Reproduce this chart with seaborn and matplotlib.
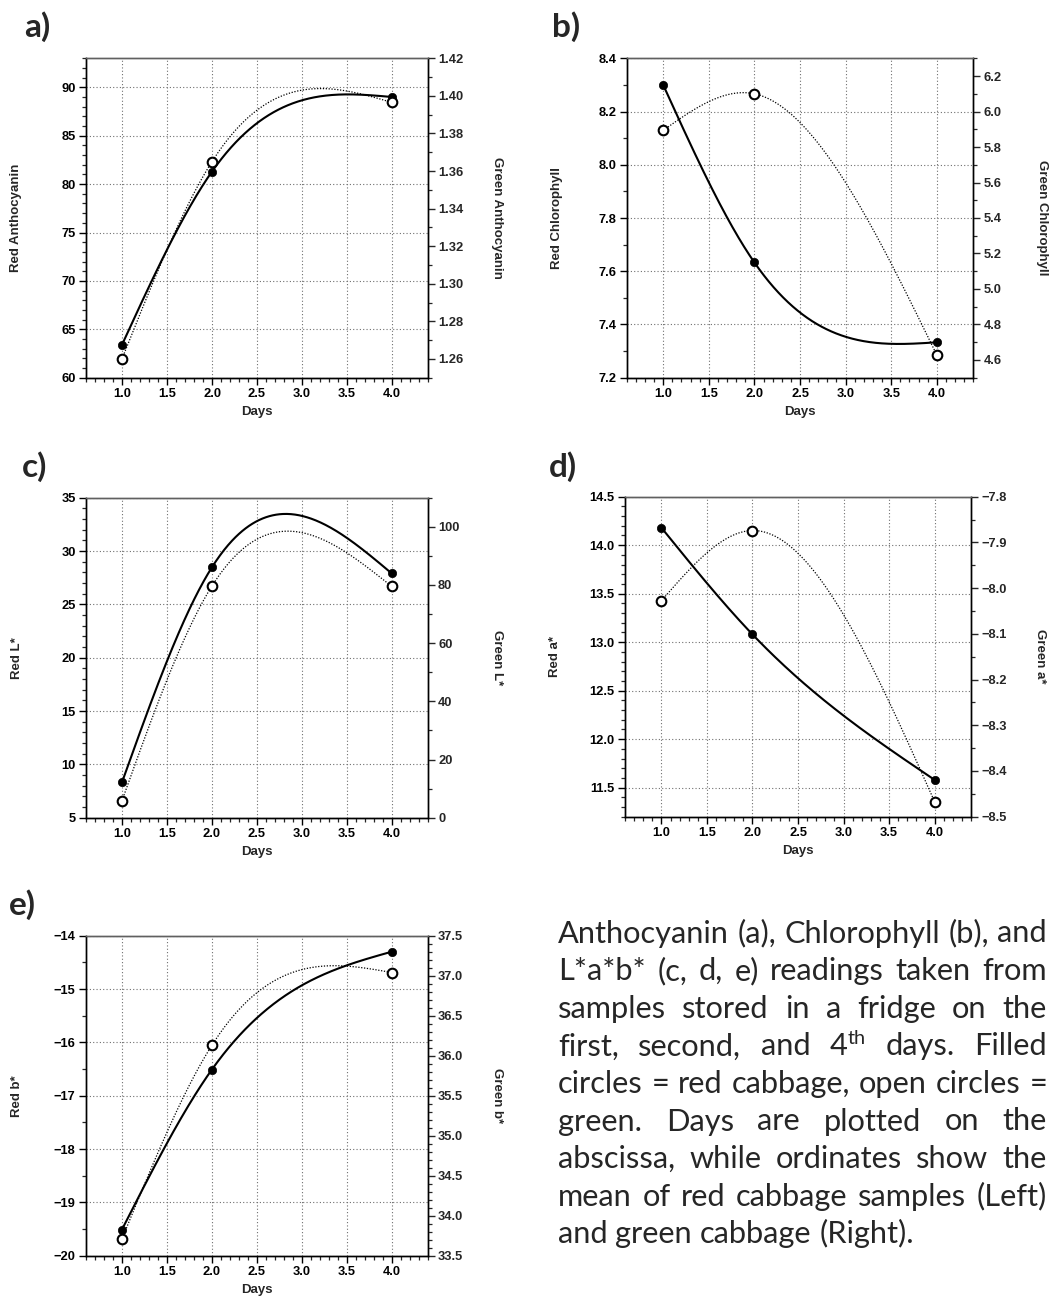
import numpy as np
import pandas as pd
import seaborn as sns
import matplotlib
matplotlib.use("Agg")
import matplotlib.pyplot as plt
from matplotlib.ticker import MultipleLocator, FuncFormatter

# ---------------- data ----------------
days = [1.0, 2.0, 4.0]
red_anthocyanin = [63.4, 81.3, 89.0]
green_anthocyanin = [1.260, 1.365, 1.3965]
red_chlorophyll = [8.30, 7.633, 7.333]
green_chlorophyll = [5.894, 6.10, 4.628]
red_L = [8.31, 28.47, 27.9]
green_L = [5.84, 79.6, 79.5]
red_a = [14.18, 13.08, 11.58]
green_a = [-8.0275, -7.874, -8.467]
red_b = [-19.51, -16.51, -14.30]
green_b = [33.71, 36.13, 37.04]

caption_lines = [
    ["Anthocyanin", "(a),", "Chlorophyll", "(b),", "and"],
    ["L*a*b*", "(c,", "d,", "e)", "readings", "taken", "from"],
    ["samples", "stored", "in", "a", "fridge", "on", "the"],
    ["first,", "second,", "and", "4^th", "days.", "Filled"],
    ["circles", "=", "red", "cabbage,", "open", "circles", "="],
    ["green.", "Days", "are", "plotted", "on", "the"],
    ["abscissa,", "while", "ordinates", "show", "the"],
    ["mean", "of", "red", "cabbage", "samples", "(Left)"],
    ["and", "green", "cabbage", "(Right)."],
]

# ---------------- setup ----------------
sns.set_theme(style="white")
plt.rcParams["font.family"] = ["Liberation Sans", "DejaVu Sans"]
plt.rcParams["font.weight"] = "bold"
plt.rcParams["axes.labelweight"] = "bold"

W, H = 1053, 1299
fig = plt.figure(figsize=(W / 100, H / 100), dpi=100)
fig.patch.set_facecolor("white")

TICK_FS = 9.3
LABEL_FS = 9.5


def natural_spline(x, y, xs):
    x = np.asarray(x, float)
    y = np.asarray(y, float)
    n = len(x)
    h = np.diff(x)
    A = np.zeros((n, n))
    rhs = np.zeros(n)
    A[0, 0] = 1.0
    A[-1, -1] = 1.0
    for i in range(1, n - 1):
        A[i, i - 1] = h[i - 1]
        A[i, i] = 2 * (h[i - 1] + h[i])
        A[i, i + 1] = h[i]
        rhs[i] = 6 * ((y[i + 1] - y[i]) / h[i] - (y[i] - y[i - 1]) / h[i - 1])
    M = np.linalg.solve(A, rhs)
    out = np.empty_like(xs)
    for k, xv in enumerate(xs):
        i = min(max(np.searchsorted(x, xv) - 1, 0), n - 2)
        hi = h[i]
        a = x[i + 1] - xv
        b = xv - x[i]
        out[k] = (M[i] * a ** 3 / (6 * hi) + M[i + 1] * b ** 3 / (6 * hi)
                  + (y[i] / hi - M[i] * hi / 6) * a
                  + (y[i + 1] / hi - M[i + 1] * hi / 6) * b)
    return out


def fmt(f):
    return FuncFormatter(lambda v, p: (f % v).replace("-", "\u2212"))


def panel(box, red, green, rlab, glab, rlim, rmaj, rmin, rf, glim, gmaj, gmin, gf):
    l, r, t, b = box
    ax = fig.add_axes([l / W, 1 - b / H, (r - l) / W, (b - t) / H])
    ax2 = ax.twinx()
    xs = np.linspace(1.0, 4.0, 400)
    red_df = pd.DataFrame({"day": xs, "val": natural_spline(days, red, xs)})
    green_df = pd.DataFrame({"day": xs, "val": natural_spline(days, green, xs)})

    ax.grid(True, which="major", color="#707070", linestyle=(0, (1, 2)), linewidth=0.8)
    ax.set_axisbelow(True)
    sns.lineplot(data=red_df, x="day", y="val", ax=ax, color="black",
                 linewidth=1.5, estimator=None, sort=False, legend=False)
    sns.scatterplot(x=days, y=red, ax=ax, color="black", s=36,
                    edgecolor="black", linewidth=0.5, zorder=5, legend=False)
    sns.lineplot(data=green_df, x="day", y="val", ax=ax2, color="black",
                 linewidth=0.9, linestyle=(0, (1, 1.3)), estimator=None,
                 sort=False, legend=False)
    sns.scatterplot(x=days, y=green, ax=ax2, color="white", s=48,
                    edgecolor="black", linewidth=1.5, zorder=6, legend=False)

    ax.set_xlim(0.6, 4.4)
    ax.set_ylim(*rlim)
    ax2.set_ylim(*glim)
    ax.xaxis.set_major_locator(MultipleLocator(0.5))
    ax.xaxis.set_minor_locator(MultipleLocator(0.1))
    ax.xaxis.set_major_formatter(fmt("%.1f"))
    ax.yaxis.set_major_locator(MultipleLocator(rmaj))
    ax.yaxis.set_minor_locator(MultipleLocator(rmin))
    ax.yaxis.set_major_formatter(fmt(rf))
    ax2.yaxis.set_major_locator(MultipleLocator(gmaj))
    ax2.yaxis.set_minor_locator(MultipleLocator(gmin))
    ax2.yaxis.set_major_formatter(fmt(gf))
    ax2.grid(False)

    ax.tick_params(axis="both", which="major", direction="out", length=5,
                   width=1, labelsize=TICK_FS, pad=2.5, colors="black",
                   bottom=True, left=True, top=False, right=False)
    ax.tick_params(axis="both", which="minor", direction="out", length=3,
                   width=0.9, bottom=True, left=True, top=False, right=False)
    ax2.tick_params(axis="y", which="major", direction="out", length=5,
                    width=1, labelsize=TICK_FS, pad=2.5, right=True, left=False)
    ax2.tick_params(axis="y", which="minor", direction="out", length=3,
                    width=0.9, right=True, left=False)

    for a_ in (ax, ax2):
        for side in ("left", "right", "bottom"):
            a_.spines[side].set_color("black")
            a_.spines[side].set_linewidth(1.0)
        a_.spines["top"].set_color("#606060")
        a_.spines["top"].set_linewidth(1.0)

    ax.set_xlabel("Days", fontsize=LABEL_FS, fontweight="bold", va="center")
    ax.xaxis.set_label_coords(0.5, -34 / (b - t))
    ax.set_ylabel(rlab, fontsize=LABEL_FS, fontweight="bold", va="center", ha="center")
    ax.yaxis.set_label_coords(-69.5 / (r - l), 0.5)
    ax2.set_ylabel(glab, fontsize=LABEL_FS, fontweight="bold", rotation=270,
                   va="center", ha="center")
    ax2.yaxis.set_label_coords(1 + 69 / (r - l), 0.5)
    return ax, ax2


panel((86, 428, 58.3, 377.7), red_anthocyanin, green_anthocyanin,
      "Red Anthocyanin", "Green Anthocyanin",
      (60, 93), 5, 1, "%.0f", (1.25, 1.42), 0.02, 0.01, "%.2f")
panel((626.7, 973.3, 58.3, 377.7), red_chlorophyll, green_chlorophyll,
      "Red Chlorophyll", "Green Chlorophyll",
      (7.2, 8.4), 0.2, 0.1, "%.1f", (4.5, 6.3), 0.2, 0.1, "%.1f")
panel((86, 427.7, 497.7, 817.7), red_L, green_L, "Red L*", "Green L*",
      (5, 35), 5, 1, "%.0f", (0, 110), 20, 10, "%.0f")
panel((625, 971, 496.7, 816.7), red_a, green_a, "Red a*", "Green a*",
      (11.2, 14.5), 0.5, 0.1, "%.1f", (-8.5, -7.8), 0.1, 0.05, "%.1f")
panel((86, 427.7, 935.7, 1255.7), red_b, green_b, "Red b*", "Green b*",
      (-20, -14), 1, 0.5, "%.0f", (33.5, 37.5), 0.5, 0.1, "%.1f")

# panel letters
letter_font = ["Lato", "DejaVu Sans"]
for lab, x, y in [("a)", 24, 27), ("b)", 552, 27), ("c)", 22, 467),
                  ("d)", 549, 467), ("e)", 9, 905)]:
    fig.text(x / W, 1 - y / H, lab, fontsize=24, fontweight="bold",
             family=letter_font, ha="left", va="center")

# ---------------- caption (justified) ----------------
cap_font = ["Lato", "DejaVu Sans"]
fig.canvas.draw()
rend = fig.canvas.get_renderer()


def text_width(s, size):
    t = fig.text(0, 0, s, fontsize=size, family=cap_font, fontweight="normal")
    w = t.get_window_extent(rend).width
    t.remove()
    return w


cap_left, cap_right = 558, 1047
target = cap_right - cap_left
base = 20.0
size = base * target / text_width(" ".join(caption_lines[0]), base)
sup_size = size * 0.65
space_w = text_width("a b", size) - text_width("ab", size)


def word_width(wd):
    if "^" in wd:
        m, s = wd.split("^")
        return text_width(m, size) + text_width(s, sup_size)
    return text_width(wd, size)


base_y = 942.5
line_gap = 37.6
for i, words in enumerate(caption_lines):
    widths = [word_width(w) for w in words]
    last = i == len(caption_lines) - 1
    gap = space_w if last else (target - sum(widths)) / (len(words) - 1)
    x = cap_left
    y = base_y + i * line_gap
    for wd, wdt in zip(words, widths):
        if "^" in wd:
            m, s = wd.split("^")
            fig.text(x / W, 1 - y / H, m, fontsize=size, family=cap_font,
                     fontweight="normal", ha="left", va="baseline")
            mw = text_width(m, size)
            fig.text((x + mw) / W, 1 - (y - size * 100 / 72 * 0.36) / H, s,
                     fontsize=sup_size, family=cap_font, fontweight="normal",
                     ha="left", va="baseline")
        else:
            fig.text(x / W, 1 - y / H, wd, fontsize=size, family=cap_font,
                     fontweight="normal", ha="left", va="baseline")
        x += wdt + gap

fig.savefig("out.png", dpi=100, facecolor="white")
